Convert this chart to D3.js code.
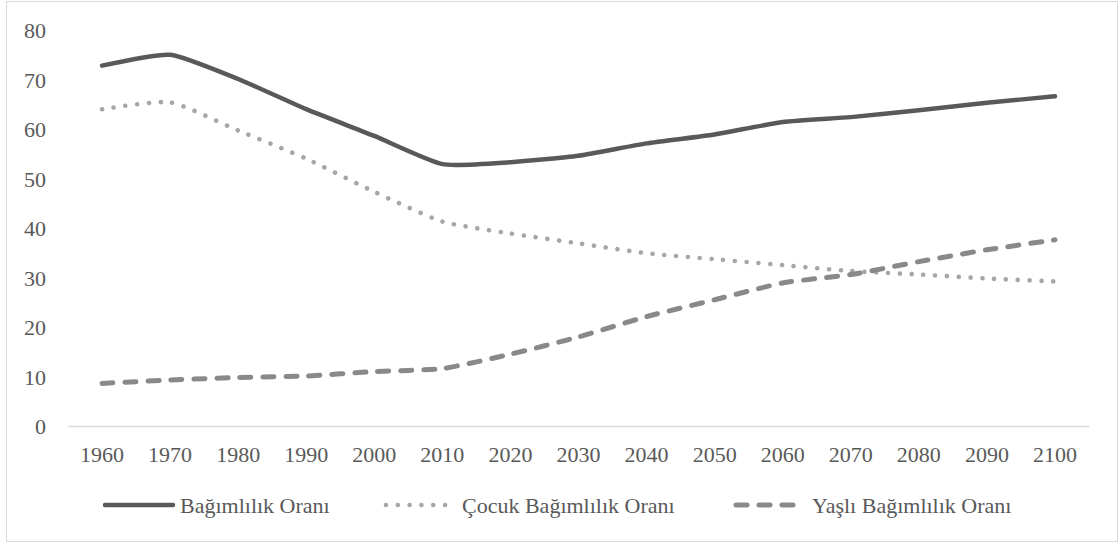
<!DOCTYPE html>
<html><head><meta charset="utf-8">
<script src="https://cdn.jsdelivr.net/npm/d3@7"></script>
<style>body{margin:0;background:#fff}svg{display:block}</style>
</head><body>
<script>
const years = [1960,1970,1980,1990,2000,2010,2020,2030,2040,2050,2060,2070,2080,2090,2100];
const bagimlilik = [72.8,75.0,70.1,64.0,58.6,52.9,53.3,54.6,57.1,58.9,61.4,62.4,63.8,65.3,66.6];
const cocuk = [64.0,65.4,59.7,54.0,47.3,41.3,38.9,36.9,34.9,33.7,32.5,31.3,30.6,29.8,29.2];
const yasli = [8.6,9.3,9.8,10.1,11.0,11.6,14.5,18.0,22.1,25.5,28.9,30.6,33.2,35.6,37.6];
const yTicks = [0,10,20,30,40,50,60,70,80];
const seriesNames = ["Bağımlılık Oranı","Çocuk Bağımlılık Oranı","Yaşlı Bağımlılık Oranı"];

const W=1119,H=545;
const svg=d3.select("body").append("svg").attr("width",W).attr("height",H);
svg.append("rect").attr("x",6.5).attr("y",1.5).attr("width",1111).attr("height",540)
  .attr("fill","#fff").attr("stroke","#d9d9d9").attr("stroke-width",1);

const x=d3.scaleBand().domain(years).range([68,1089]);
const y=d3.scaleLinear().domain([0,80]).range([426,30]);
const font="'Liberation Serif','Times New Roman',serif";
const fs=22;

const xa=svg.append("g").attr("transform","translate(0,426)").call(d3.axisBottom(x).tickSize(0).tickPadding(20));
xa.select(".domain").attr("stroke","#d9d9d9").attr("stroke-width",1.5);
xa.selectAll("text").attr("font-family",font).attr("font-size",fs).attr("fill","#595959");

const ya=svg.append("g").attr("transform","translate(46,0)").call(d3.axisLeft(y).tickValues(yTicks).tickSize(0).tickPadding(0));
ya.select(".domain").remove();
ya.selectAll("text").attr("font-family",font).attr("font-size",fs).attr("fill","#595959").attr("dy","0.35em");

const cx=d=>x(d)+x.bandwidth()/2;
const line=d3.line().x((d,i)=>cx(years[i])).y(d=>y(d)).curve(d3.curveCardinal.tension(0.45));

const styles=[
 {data:bagimlilik,stroke:"#595959",w:4.5,dash:null},
 {data:cocuk,stroke:"#a6a6a6",w:4.6,dash:"0.01 11.8"},
 {data:yasli,stroke:"#898989",w:5,dash:"11 12"}
];
styles.forEach(s=>{
  svg.append("path").attr("d",line(s.data)).attr("fill","none")
   .attr("stroke",s.stroke).attr("stroke-width",s.w).attr("stroke-linecap","round")
   .attr("stroke-linejoin","round").attr("stroke-dasharray",s.dash);
});

// legend
const legX=[[105,173,180],[386,448,462],[736,796,812]];
styles.forEach((s,i)=>{
  const [a,b,t]=legX[i];
  svg.append("line").attr("x1",a).attr("x2",b).attr("y1",505).attr("y2",505)
   .attr("stroke",s.stroke).attr("stroke-width",s.w).attr("stroke-linecap","round")
   .attr("stroke-dasharray",s.dash);
  svg.append("text").attr("x",t).attr("y",513)
   .attr("font-family",font).attr("font-size",fs).attr("fill","#595959").text(seriesNames[i]);
});
</script>
</body></html>
